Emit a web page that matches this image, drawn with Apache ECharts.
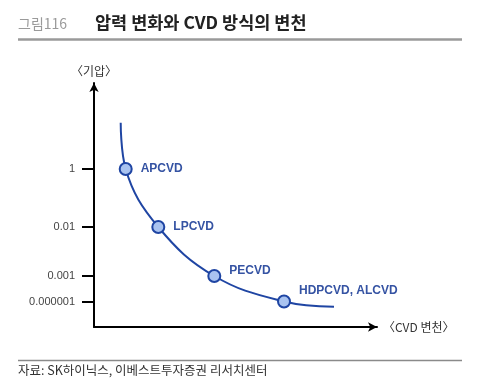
<!DOCTYPE html>
<html>
<head>
<meta charset="utf-8">
<script src="https://cdn.jsdelivr.net/npm/echarts@6/dist/echarts.min.js"></script>
<style>
html,body{margin:0;padding:0;background:#fff;}
#chart{width:485px;height:387px;}
</style>
</head>
<body>
<div id="chart"></div>
<script>
// Tick labels on the (non-uniform) pressure axis and their axis positions
const pressureTicks = ['1', '0.01', '0.001', '0.000001'];
const tickLevels = [158, 100, 51, 25.5];

// CVD methods (markers) – position along the CVD-evolution axis and pressure level
const methods = ['APCVD', 'LPCVD', 'PECVD', 'HDPCVD, ALCVD'];
const methodX = [31.7, 64.3, 120.3, 190];
const methodLevel = [158, 100, 51, 25.5];

// Trend curve points
const curveX = [26.7, 31.7, 64.3, 120.3, 190, 240];
const curveY = [204.3, 158, 100, 51, 25.5, 20.3];

const FONT_KR = "'Noto Sans CJK KR', 'Noto Sans', sans-serif";
const FONT_LAT = "'Liberation Sans', Arial, sans-serif";

const chart = echarts.init(document.getElementById('chart'), null, {renderer: 'canvas'});

const labelOffsets = [[0, 0], [0, 0], [0, -5], [0, -11]];

chart.setOption({
  animation: false,
  backgroundColor: '#fff',
  grid: {left: 94, right: 108, top: 83, bottom: 60},
  xAxis: {
    type: 'value', min: 0, max: 283,
    name: '〈CVD 변천〉', nameLocation: 'end', nameGap: 6,
    nameTextStyle: {fontFamily: FONT_KR, fontSize: 12, color: '#333', verticalAlign: 'middle'},
    axisLine: {show: true, symbol: ['none', 'arrow'], symbolSize: [7, 9], symbolOffset: [0, 0],
      lineStyle: {color: '#000', width: 2}},
    axisTick: {show: false}, axisLabel: {show: false}, splitLine: {show: false}
  },
  yAxis: {
    type: 'value', min: 0, max: 244,
    name: '〈기압〉', nameLocation: 'end', nameGap: 6,
    nameTextStyle: {fontFamily: FONT_KR, fontSize: 12, color: '#333', align: 'center'},
    axisLine: {show: true, symbol: ['none', 'arrow'], symbolSize: [7, 9],
      lineStyle: {color: '#000', width: 2}},
    axisTick: {show: true, customValues: tickLevels, length: 12, lineStyle: {color: '#000', width: 2}},
    axisLabel: {show: true, customValues: tickLevels, margin: 19,
      fontFamily: FONT_LAT, fontSize: 11, color: '#444',
      formatter: function (v) {
        const i = tickLevels.indexOf(v);
        return i >= 0 ? pressureTicks[i] : '';
      }},
    splitLine: {show: false}
  },
  series: [
    {
      type: 'line',
      data: curveX.map((x, i) => [x, curveY[i]]),
      smooth: 0.4,
      showSymbol: false,
      lineStyle: {color: '#1f45a3', width: 2},
      z: 2
    },
    {
      type: 'scatter',
      data: methodX.map((x, i) => ({
        value: [x, methodLevel[i]],
        name: methods[i],
        label: {offset: labelOffsets[i]}
      })),
      symbol: 'circle',
      symbolSize: 12,
      itemStyle: {color: '#a9c3f0', borderColor: '#1f45a3', borderWidth: 2, opacity: 1},
      label: {
        show: true, position: 'right', distance: 8,
        formatter: '{b}',
        fontFamily: FONT_LAT, fontSize: 12, fontWeight: 'bold', color: '#3553a3'
      },
      z: 3
    }
  ],
  graphic: [
    {type: 'text', left: 18, top: 17, style: {text: '그림116', fontFamily: FONT_KR, fontSize: 14, fill: '#9a9a9a'}},
    {type: 'text', left: 95, top: 14, style: {text: '압력 변화와 CVD 방식의 변천', fontFamily: FONT_KR, fontSize: 17.5, fontWeight: 'bold', fill: '#222'}},
    {type: 'line', shape: {x1: 18, y1: 39.5, x2: 462, y2: 39.5}, style: {stroke: '#9a9a9a', lineWidth: 2.5}},
    {type: 'line', shape: {x1: 18, y1: 360.5, x2: 462, y2: 360.5}, style: {stroke: '#8a8a8a', lineWidth: 1.5}},
    {type: 'text', left: 18, top: 364, style: {text: '자료: SK하이닉스, 이베스트투자증권 리서치센터', fontFamily: FONT_KR, fontSize: 12.5, fill: '#333'}}
  ]
});
</script>
</body>
</html>
